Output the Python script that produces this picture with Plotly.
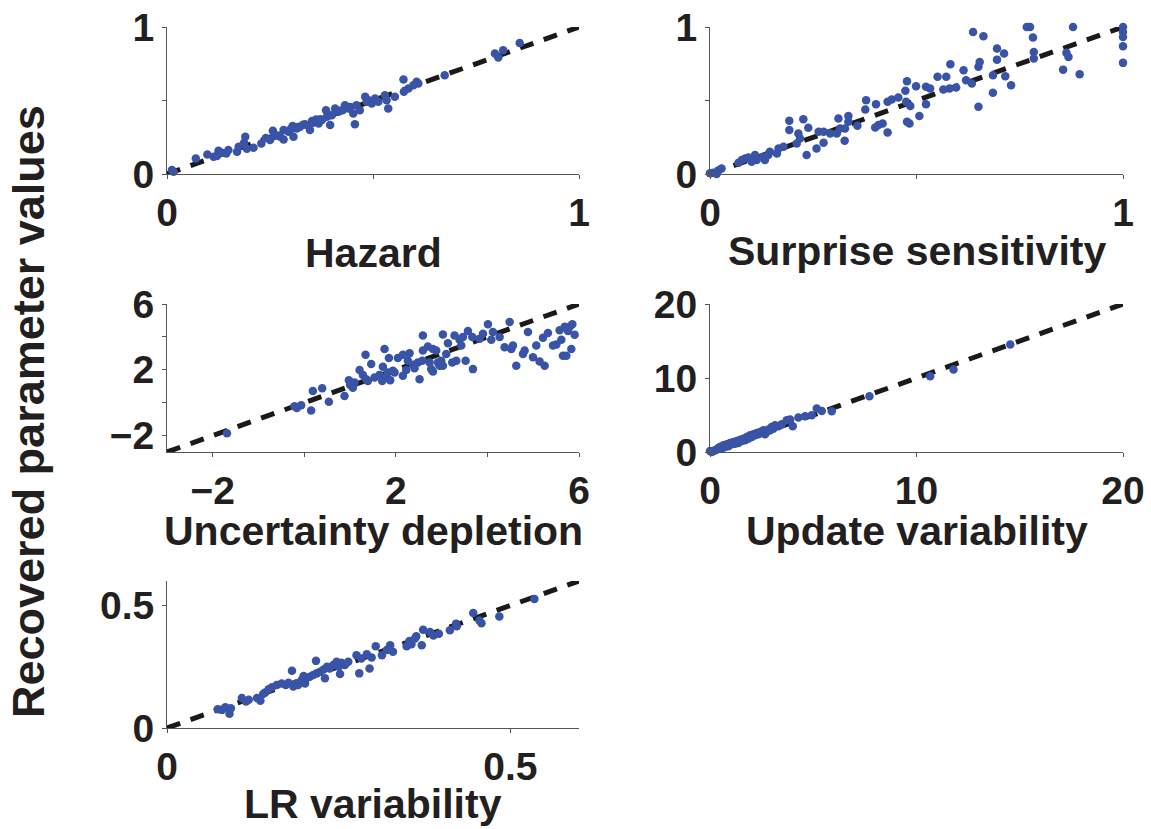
import plotly.graph_objects as go

# ---------------- data ----------------
hazard_sim = [0.012, 0.016, 0.070, 0.098, 0.113, 0.121, 0.125, 0.133, 0.144, 0.149, 0.170, 0.174,
              0.187, 0.190, 0.194, 0.210, 0.229, 0.250, 0.257, 0.260, 0.275, 0.283, 0.283, 0.295,
              0.305, 0.307, 0.315, 0.323, 0.335, 0.343, 0.347, 0.355, 0.362, 0.368, 0.376, 0.386,
              0.388, 0.396, 0.400, 0.408, 0.416, 0.426, 0.432, 0.440, 0.452, 0.456, 0.460, 0.468,
              0.481, 0.485, 0.489, 0.497, 0.505, 0.513, 0.529, 0.533, 0.537, 0.553, 0.574, 0.575,
              0.586, 0.598, 0.606, 0.610, 0.674, 0.796, 0.804, 0.816, 0.856,
              0.300, 0.318, 0.330, 0.352, 0.372, 0.392, 0.420, 0.445, 0.270, 0.240]
hazard_rec = [0.027, 0.016, 0.106, 0.133, 0.118, 0.122, 0.158, 0.145, 0.140, 0.163, 0.152, 0.186,
              0.213, 0.253, 0.172, 0.179, 0.208, 0.231, 0.294, 0.258, 0.253, 0.235, 0.299, 0.287,
              0.326, 0.253, 0.310, 0.321, 0.339, 0.326, 0.299, 0.348, 0.371, 0.344, 0.367, 0.434,
              0.389, 0.333, 0.400, 0.446, 0.423, 0.434, 0.468, 0.446, 0.412, 0.339, 0.468, 0.434,
              0.525, 0.491, 0.502, 0.480, 0.514, 0.491, 0.536, 0.502, 0.446, 0.525, 0.643, 0.559,
              0.581, 0.604, 0.627, 0.615, 0.672, 0.819, 0.792, 0.842, 0.891,
              0.305, 0.320, 0.335, 0.360, 0.372, 0.398, 0.430, 0.455, 0.262, 0.245]

surprise_sim = [0.000, 0.008, 0.016, 0.020, 0.028, 0.069, 0.077, 0.085, 0.093, 0.101, 0.109, 0.113,
                0.129, 0.133, 0.141, 0.145, 0.162, 0.166, 0.178, 0.192, 0.192, 0.210, 0.214, 0.218,
                0.226, 0.234, 0.238, 0.258, 0.263, 0.275, 0.275, 0.291, 0.307, 0.311, 0.315, 0.326,
                0.327, 0.335, 0.335, 0.357, 0.376, 0.378, 0.400, 0.402, 0.408, 0.418, 0.430, 0.430,
                0.440, 0.456, 0.473, 0.475, 0.477, 0.477, 0.483, 0.485, 0.499, 0.507, 0.523, 0.523,
                0.533, 0.551, 0.565, 0.572, 0.580, 0.582, 0.596, 0.614, 0.620, 0.634, 0.637, 0.650,
                0.650, 0.653, 0.662, 0.685, 0.685, 0.695, 0.695, 0.712, 0.715, 0.729, 0.767, 0.775,
                0.782, 0.784, 0.784, 0.855, 0.863, 0.868, 0.879, 0.895, 1.000, 1.000, 1.000, 1.000,
                1.000]
surprise_rec = [0.005, 0.009, 0.000, 0.023, 0.038, 0.077, 0.095, 0.106, 0.113, 0.084, 0.129, 0.095,
                0.118, 0.095, 0.129, 0.152, 0.140, 0.174, 0.186, 0.362, 0.299, 0.208, 0.276, 0.242,
                0.373, 0.129, 0.314, 0.174, 0.287, 0.287, 0.213, 0.276, 0.276, 0.378, 0.310, 0.226,
                0.310, 0.394, 0.355, 0.328, 0.439, 0.502, 0.317, 0.475, 0.333, 0.344, 0.283, 0.491,
                0.507, 0.520, 0.566, 0.491, 0.631, 0.355, 0.344, 0.462, 0.597, 0.394, 0.475, 0.593,
                0.581, 0.661, 0.575, 0.661, 0.581, 0.747, 0.588, 0.706, 0.638, 0.615, 0.966, 0.457,
                0.729, 0.762, 0.937, 0.672, 0.552, 0.853, 0.778, 0.819, 0.665, 0.604, 1.000, 1.000,
                0.928, 0.830, 0.785, 0.710, 0.824, 0.796, 1.000, 0.679, 1.000, 0.966, 0.932, 0.869,
                0.756]

uncert_sim = [-1.69, -0.215, -0.164, -0.069, 0.149, 0.186, 0.390, 0.536, 0.878, 0.973, 1.002, 1.097,
              1.060, 1.206, 1.279, 1.337, 1.388, 1.461, 1.352, 1.534, 1.643, 1.701, 1.716, 1.752,
              1.774, 1.825, 1.847, 1.876, 1.934, 1.971, 2.044, 2.153, 2.153, 2.226, 2.262, 2.299,
              2.372, 2.408, 2.481, 2.517, 2.576, 2.590, 2.590, 2.699, 2.736, 2.772, 2.809, 2.809,
              2.882, 2.918, 2.954, 2.991, 3.027, 3.027, 3.100, 3.137, 3.231, 3.282, 3.319, 3.392,
              3.428, 3.464, 3.523, 3.574, 3.669, 3.683, 3.829, 3.902, 4.011, 4.084, 4.120, 4.266,
              4.375, 4.485, 4.521, 4.557, 4.630, 4.776, 4.812, 4.885, 4.995, 5.067, 5.140, 5.213,
              5.250, 5.322, 5.432, 5.505, 5.577, 5.614, 5.650, 5.687, 5.723, 5.760, 5.796, 5.832,
              5.854, 5.905]
uncert_rec = [-1.86, -0.22, -0.32, -0.15, -0.48, 0.71, 0.87, 0.05, 0.40, 1.36, 1.08, 1.22,
              0.91, 1.98, 1.69, 2.92, 1.32, 2.35, 1.42, 1.53, 1.69, 1.32, 2.18, 3.27,
              1.53, 1.84, 2.72, 1.36, 1.94, 1.84, 2.72, 1.63, 2.92, 1.98, 2.55, 3.01,
              2.31, 2.10, 2.45, 1.43, 2.55, 4.09, 3.17, 3.42, 2.45, 2.04, 3.27, 1.90,
              3.17, 2.45, 2.25, 2.55, 4.15, 2.25, 2.96, 3.62, 2.45, 4.09, 2.55, 3.83,
              3.48, 3.99, 2.55, 4.36, 3.99, 2.04, 3.89, 4.19, 4.77, 3.83, 4.30, 3.99,
              3.37, 4.91, 3.27, 3.48, 2.25, 2.96, 3.17, 4.30, 2.76, 3.48, 2.51, 3.95,
              2.25, 4.24, 3.48, 3.54, 4.40, 3.83, 2.86, 4.61, 2.86, 4.36, 4.61, 3.27,
              4.77, 4.13]

update_sim = [0.000, 0.081, 0.242, 0.323, 0.485, 0.565, 0.646, 0.808, 0.889, 0.969, 1.131, 1.212,
              1.292, 1.373, 1.454, 1.616, 1.696, 1.777, 1.939, 2.019, 2.100, 2.262, 2.342, 2.423,
              2.585, 2.666, 2.746, 2.827, 2.989, 3.069, 3.150, 3.312, 3.473, 3.716, 3.877, 4.006,
              4.281, 4.604, 4.927, 5.170, 5.412, 5.897, 7.722, 10.662, 11.793, 14.540,
              0.162, 0.404, 0.727, 1.050, 1.535, 1.858, 2.181, 2.504, 2.908]
update_rec = [0.135, 0.000, 0.226, 0.316, 0.677, 0.451, 0.903, 1.038, 0.767, 1.219, 1.354, 1.129,
              1.490, 1.219, 1.670, 1.806, 1.580, 2.032, 2.257, 2.032, 2.393, 2.573, 2.393, 2.709,
              2.935, 2.393, 2.709, 3.025, 3.386, 3.160, 3.612, 3.476, 3.747, 4.289, 4.379, 3.476,
              4.650, 4.831, 4.966, 5.869, 5.553, 5.508, 7.540, 10.248, 11.151, 14.537,
              0.135, 0.542, 0.677, 1.038, 1.490, 1.806, 2.257, 2.573, 2.935]

lr_sim = [0.074, 0.080, 0.085, 0.091, 0.093, 0.109, 0.115, 0.119, 0.131, 0.136, 0.140, 0.143,
          0.148, 0.153, 0.160, 0.167, 0.173, 0.177, 0.182, 0.184, 0.188, 0.191, 0.196, 0.199,
          0.201, 0.203, 0.208, 0.213, 0.217, 0.218, 0.223, 0.228, 0.230, 0.233, 0.237, 0.242,
          0.247, 0.250, 0.252, 0.254, 0.259, 0.264, 0.276, 0.280, 0.283, 0.291, 0.295, 0.298,
          0.304, 0.313, 0.320, 0.325, 0.329, 0.349, 0.353, 0.356, 0.361, 0.363, 0.371, 0.373,
          0.383, 0.388, 0.396, 0.412, 0.421, 0.422, 0.446, 0.455, 0.458, 0.484, 0.535]
lr_rec = [0.077, 0.074, 0.085, 0.058, 0.081, 0.122, 0.108, 0.115, 0.122, 0.111, 0.139, 0.145,
          0.158, 0.166, 0.176, 0.182, 0.176, 0.185, 0.234, 0.169, 0.182, 0.176, 0.196, 0.212,
          0.182, 0.203, 0.209, 0.216, 0.274, 0.223, 0.230, 0.239, 0.203, 0.250, 0.243, 0.257,
          0.270, 0.250, 0.220, 0.266, 0.257, 0.270, 0.297, 0.223, 0.284, 0.301, 0.243, 0.288,
          0.334, 0.297, 0.318, 0.338, 0.311, 0.334, 0.355, 0.342, 0.365, 0.374, 0.338, 0.401,
          0.392, 0.378, 0.385, 0.399, 0.426, 0.415, 0.469, 0.439, 0.428, 0.455, 0.527]

panel_titles = ["Hazard", "Surprise sensitivity", "Uncertainty depletion",
                "Update variability", "LR variability"]
panel_ranges = [[0, 1], [0, 1], [-3, 6], [0, 20], [0, 0.6]]
panel_tickvals = [[0, 0.5, 1], [0, 0.5, 1], [-2, 0, 2, 4, 6], [0, 10, 20], [0, 0.5]]
panel_ticktext = [["0", "", "1"], ["0", "", "1"], ["\u22122", "", "2", "", "6"],
                  ["0", "10", "20"], ["0", "0.5"]]
y_title = "Recovered parameter values"

sims = [hazard_sim, surprise_sim, uncert_sim, update_sim, lr_sim]
recs = [hazard_rec, surprise_rec, uncert_rec, update_rec, lr_rec]

# ---------------- layout geometry ----------------
W, H = 1151, 829
col_px = [(167, 579), (710, 1123)]
row_px = [(27, 174), (304, 452), (581, 728)]
slots = [(0, 0), (0, 1), (1, 0), (1, 1), (2, 0)]
title_cy = [253, 251, 531, 531, 804]

FONT = "Liberation Sans, Arial, Helvetica, sans-serif"
TXT = "#231f20"
DOT = "#3953a6"
AXC = "#555555"

fig = go.Figure()
layout = dict(width=W, height=H, margin=dict(l=0, r=0, t=0, b=0, pad=0),
              paper_bgcolor="white", plot_bgcolor="white", showlegend=False,
              template="none", annotations=[])

for i in range(5):
    r, c = slots[i]
    xs = "x" if i == 0 else f"x{i+1}"
    ys = "y" if i == 0 else f"y{i+1}"
    rng = panel_ranges[i]
    fig.add_trace(go.Scatter(x=rng, y=rng, mode="lines", xaxis=xs, yaxis=ys,
                             line=dict(color="#1a1a1a", width=5, dash="14px,11px"),
                             cliponaxis=False, hoverinfo="skip"))
    fig.add_trace(go.Scatter(x=sims[i], y=recs[i], mode="markers", xaxis=xs, yaxis=ys,
                             marker=dict(color=DOT, size=8.5, line=dict(width=0)),
                             cliponaxis=False, hoverinfo="skip"))
    x0, x1 = col_px[c]
    y0, y1 = row_px[r]
    axfont = dict(family=FONT, size=39, color=TXT, weight="bold")
    common = dict(range=rng, showgrid=False, zeroline=False, showline=True, linecolor=AXC,
                  linewidth=1, ticks="outside", ticklen=4, tickwidth=1, tickcolor=AXC,
                  tickvals=panel_tickvals[i], ticktext=panel_ticktext[i], tickfont=axfont,
                  fixedrange=True, automargin=False)
    xkey = "xaxis" if i == 0 else f"xaxis{i+1}"
    ykey = "yaxis" if i == 0 else f"yaxis{i+1}"
    layout[xkey] = dict(domain=[x0 / W, x1 / W], anchor=ys, ticklabelstandoff=0, **common)
    layout[ykey] = dict(domain=[(H - y1) / H, (H - y0) / H], anchor=xs,
                        ticklabelstandoff=0, **common)
    # axis title
    layout["annotations"].append(dict(
        text=panel_titles[i], xref="paper", yref="paper", x=(x0 + x1) / 2 / W,
        y=(H - title_cy[i]) / H, xanchor="center", yanchor="middle", showarrow=False,
        font=dict(family=FONT, size=41, color=TXT, weight="bold")))

layout["annotations"].append(dict(
    text=y_title, xref="paper", yref="paper", x=28 / W, y=(H - 412) / H,
    xanchor="center", yanchor="middle", textangle=-90, showarrow=False,
    font=dict(family=FONT, size=45, color=TXT, weight="bold")))

fig.update_layout(**layout)
fig.write_html("out.html")
